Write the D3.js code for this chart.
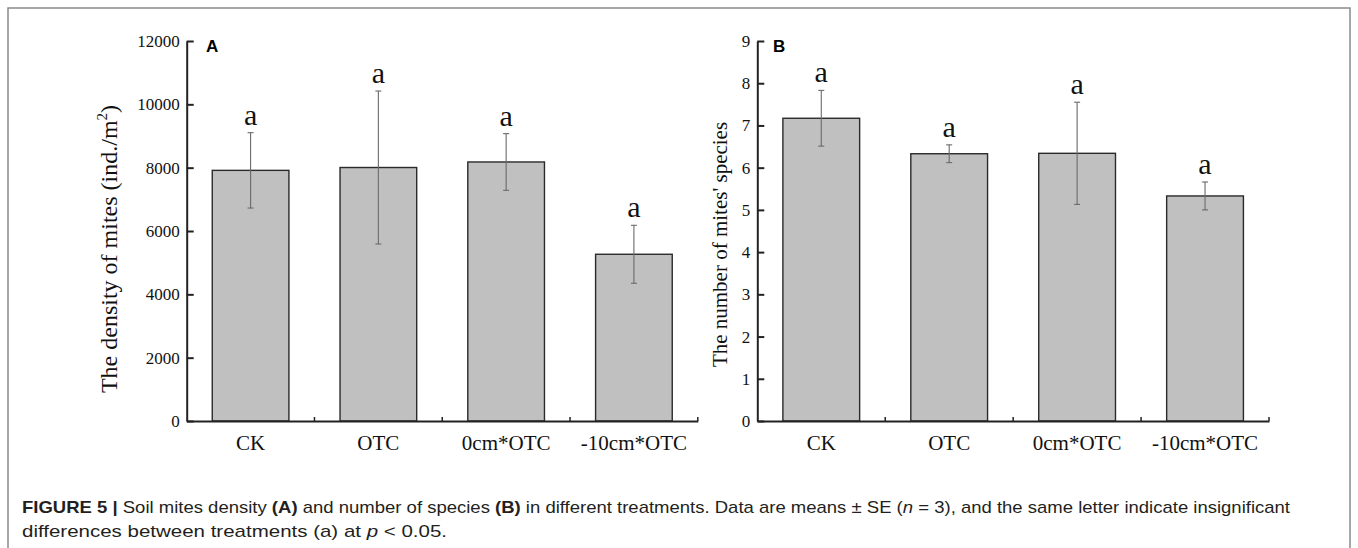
<!DOCTYPE html>
<html>
<head>
<meta charset="utf-8">
<script src="https://cdn.jsdelivr.net/npm/d3@7"></script>
<style>
  html, body { margin: 0; padding: 0; background: #fff; }
  svg { display: block; }
</style>
</head>
<body>
<svg id="chart" width="1358" height="548"></svg>
<script>
// ---------- data ----------
const categories = ["CK", "OTC", "0cm*OTC", "-10cm*OTC"];
const densityMean = [7915, 8005, 8180, 5265];
const densitySE = [1190, 2415, 895, 915];
const speciesMean = [7.17, 6.33, 6.34, 5.33];
const speciesSE = [0.66, 0.21, 1.21, 0.33];
const letters = ["a", "a", "a", "a"];
const densityTicks = [0, 2000, 4000, 6000, 8000, 10000, 12000];
const speciesTicks = [0, 1, 2, 3, 4, 5, 6, 7, 8, 9];

const svg = d3.select("#chart");
const serif = "'Liberation Serif', 'Times New Roman', serif";
const sans = "'Liberation Sans', Arial, sans-serif";

// outer frame
svg.append("rect").attr("x", 8).attr("y", 8).attr("width", 1342).attr("height", 560)
  .attr("fill", "none").attr("stroke", "#8a8a8a").attr("stroke-width", 1.5);

function panel(opts) {
  const { x0, x1, yTop, yBottom, means, ses, ticks, maxV, panelLabel, labelX, labelY } = opts;
  const g = svg.append("g");
  const x = d3.scaleBand().domain(categories).range([x0, x1]).paddingInner(0.4).paddingOuter(0.2);
  const y = d3.scaleLinear().domain([0, maxV]).range([yBottom, yTop]);

  // bars
  g.selectAll("rect.bar").data(categories).join("rect")
    .attr("class", "bar")
    .attr("x", d => x(d))
    .attr("y", (d, i) => y(means[i]))
    .attr("width", x.bandwidth())
    .attr("height", (d, i) => y(0) - y(means[i]))
    .attr("fill", "#c0c0c0").attr("stroke", "#2a2a2a").attr("stroke-width", 1.4);

  // error bars
  const eb = g.selectAll("g.err").data(categories).join("g").attr("class", "err");
  eb.append("line")
    .attr("x1", d => x(d) + x.bandwidth() / 2).attr("x2", d => x(d) + x.bandwidth() / 2)
    .attr("y1", (d, i) => y(means[i] + ses[i])).attr("y2", (d, i) => y(means[i] - ses[i]))
    .attr("stroke", "#6a6a6a").attr("stroke-width", 1.1);
  [1, -1].forEach(s => {
    eb.append("line")
      .attr("x1", d => x(d) + x.bandwidth() / 2 - 3).attr("x2", d => x(d) + x.bandwidth() / 2 + 3)
      .attr("y1", (d, i) => y(means[i] + s * ses[i])).attr("y2", (d, i) => y(means[i] + s * ses[i]))
      .attr("stroke", "#6a6a6a").attr("stroke-width", 1.1);
  });

  // significance letters
  g.selectAll("text.sig").data(categories).join("text")
    .attr("class", "sig")
    .attr("x", d => x(d) + x.bandwidth() / 2)
    .attr("y", (d, i) => y(means[i] + ses[i]) - 8)
    .attr("text-anchor", "middle")
    .attr("font-family", serif).attr("font-size", 30).attr("fill", "#111")
    .text((d, i) => letters[i]);

  // y axis
  const yAxis = d3.axisLeft(y).tickValues(ticks).tickSizeInner(-7).tickSizeOuter(0).tickPadding(7)
    .tickFormat(d3.format("d"));
  const ya = g.append("g").attr("transform", `translate(${x0},0)`).call(yAxis);
  ya.select(".domain").attr("stroke", "#222").attr("stroke-width", 2);
  ya.selectAll(".tick line").attr("stroke", "#222").attr("stroke-width", 2);
  ya.selectAll(".tick text").attr("font-family", serif).attr("font-size", 17).attr("fill", "#111");

  // x axis
  const xAxis = d3.axisBottom(x).tickSize(0).tickPadding(14);
  const xa = g.append("g").attr("transform", `translate(0,${yBottom})`).call(xAxis);
  xa.select(".domain").attr("stroke", "#222").attr("stroke-width", 2);
  xa.selectAll(".tick text").attr("font-family", serif).attr("font-size", 21).attr("fill", "#111");
  // boundary ticks pointing up
  const bounds = d3.range(1, categories.length + 1).map(i => x0 + i * x.step());
  g.selectAll("line.bt").data(bounds).join("line").attr("class", "bt")
    .attr("x1", d => d).attr("x2", d => d)
    .attr("y1", yBottom).attr("y2", yBottom - 4)
    .attr("stroke", "#222").attr("stroke-width", 1.5);

  // panel letter
  g.append("text").attr("x", labelX).attr("y", labelY)
    .attr("font-family", sans).attr("font-weight", "bold").attr("font-size", 17).attr("fill", "#000")
    .text(panelLabel);
  return g;
}

panel({ x0: 186.7, x1: 697.8, yTop: 41, yBottom: 421, means: densityMean, ses: densitySE,
  ticks: densityTicks, maxV: 12000, panelLabel: "A", labelX: 206, labelY: 52 });
panel({ x0: 757.3, x1: 1269, yTop: 41, yBottom: 421, means: speciesMean, ses: speciesSE,
  ticks: speciesTicks, maxV: 9, panelLabel: "B", labelX: 773, labelY: 51.5 });

// y axis titles
const tA = svg.append("text")
  .attr("transform", "translate(117,249) rotate(-90)")
  .attr("text-anchor", "middle")
  .attr("font-family", serif).attr("font-size", 24).attr("fill", "#111");
tA.append("tspan").text("The density of mites (ind./m");
tA.append("tspan").attr("font-size", 15).attr("dy", -10).text("2");
tA.append("tspan").attr("dy", 10).text(")");

svg.append("text")
  .attr("transform", "translate(727,244.5) rotate(-90)")
  .attr("text-anchor", "middle")
  .attr("font-family", serif).attr("font-size", 21).attr("fill", "#111")
  .text("The number of mites' species");

// caption
const cap1 = [
  { t: "FIGURE 5 |", b: true },
  { t: " Soil mites density " },
  { t: "(A)", b: true },
  { t: " and number of species " },
  { t: "(B)", b: true },
  { t: " in different treatments. Data are means \u00B1 SE (" },
  { t: "n", i: true },
  { t: " = 3), and the same letter indicate insignificant" }
];
const cap2 = [
  { t: "differences between treatments (a) at " },
  { t: "p", i: true },
  { t: " < 0.05." }
];
function capLine(parts, yPos, len) {
  const t = svg.append("text").attr("x", 22).attr("y", yPos)
    .attr("font-family", sans).attr("font-size", 17).attr("fill", "#231f20")
    .attr("textLength", len).attr("lengthAdjust", "spacingAndGlyphs")
    .style("white-space", "pre");
  parts.forEach(p => {
    t.append("tspan").attr("font-weight", p.b ? "bold" : "normal")
      .attr("font-style", p.i ? "italic" : "normal").text(p.t);
  });
  return t;
}
capLine(cap1, 513, 1268);
capLine(cap2, 537, 425);
</script>
</body>
</html>
